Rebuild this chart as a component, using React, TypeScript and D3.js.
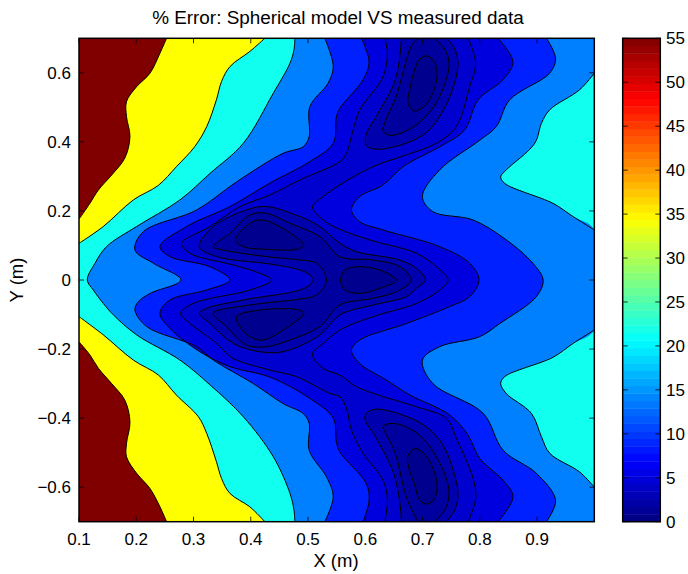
import React from "react";
import * as d3 from "d3";

type P = [number, number];

const xTicks = [0.1, 0.2, 0.3, 0.4, 0.5, 0.6, 0.7, 0.8, 0.9];
const yTicks = [-0.6, -0.4, -0.2, 0, 0.2, 0.4, 0.6];
const barTicks = [0, 5, 10, 15, 20, 25, 30, 35, 40, 45, 50, 55];

const redTop: P[] = [[.253,.70],[.2414,.657],[.224,.599],[.2007,.56],[.183,.517],[.183,.473],[.189,.415],[.18,.353],[.157,.304],[.134,.261],[.119,.222],[.1,.176]];
const redBottom: P[] = [[.1,-.179],[.119,-.217],[.134,-.256],[.157,-.30],[.18,-.348],[.189,-.411],[.183,-.473],[.183,-.512],[.2007,-.56],[.224,-.604],[.2414,-.657],[.253,-.70]];
const yellowTop: P[] = [[.4246,.70],[.3984,.662],[.3636,.618],[.349,.575],[.34,.522],[.323,.444],[.302,.386],[.27,.328],[.2385,.274],[.195,.232],[.1425,.155],[.1,.106]];
const yellowBottom: P[] = [[.1,-.106],[.1425,-.159],[.195,-.232],[.2385,-.275],[.27,-.333],[.3085,-.396],[.323,-.444],[.34,-.526],[.349,-.575],[.3636,-.618],[.3984,-.657],[.4246,-.70]];
const cyanLeft: P[] = [[.477,.70],[.4755,.667],[.4685,.628],[.4394,.541],[.387,.396],[.329,.309],[.2764,.232],[.2007,.155],[.1483,.097],[.128,.0486],[.1145,0],[.125,-.029],[.1425,-.068],[.16,-.101],[.2007,-.159],[.2764,-.232],[.329,-.304],[.387,-.396],[.4394,-.512],[.4685,-.618],[.4755,-.667],[.477,-.70]];
const cyanRight: P[] = [[1,.599],[.9744,.551],[.9222,.493],[.9077,.454],[.896,.396],[.8464,.319],[.8365,.299],[.8434,.28],[.9278,.222],[.9627,.184],[1,.145],[1,-.145],[.9627,-.184],[.9278,-.224],[.8434,-.28],[.8365,-.30],[.8464,-.329],[.89,-.386],[.9077,-.454],[.9222,-.502],[.9744,-.556],[1,-.60]];

const c4Left: P[] = [[.5293,.70],[.544,.618],[.535,.57],[.5032,.502],[.502,.415],[.4915,.386],[.4566,.367],[.375,.284],[.3054,.2027],[.2123,.14],[.1977,.0868],[.2298,.0485],[.278,0],[.2239,-.039],[.2036,-.063],[.1977,-.087],[.2182,-.135],[.3054,-.193],[.3346,-.232],[.4044,-.30],[.4566,-.358],[.4917,-.387],[.502,-.415],[.502,-.493],[.5325,-.571],[.544,-.628],[.5293,-.70]];
const c4Right: P[] = [[.9164,.70],[.9324,.642],[.922,.599],[.8523,.522],[.8287,.444],[.80,.405],[.73,.319],[.6998,.2416],[.718,.198],[.788,.174],[.8465,.116],[.893,.048],[.9106,0],[.899,-.048],[.8349,-.126],[.80,-.164],[.73,-.193],[.6998,-.232],[.718,-.30],[.8058,-.386],[.8407,-.493],[.8989,-.56],[.9324,-.638],[.9164,-.70]];

const c5Left: P[] = [[.5933,.70],[.6067,.632],[.5962,.58],[.5555,.497],[.5497,.4734],[.544,.396],[.5032,.343],[.4333,.2806],[.3636,.2127],[.288,.155],[.2414,.0966],[.2589,.0677],[.3286,.0385],[.3636,0],[.3228,-.029],[.2588,-.058],[.2414,-.0966],[.2588,-.14],[.3112,-.208],[.3636,-.251],[.4333,-.281],[.5032,-.343],[.544,-.40],[.5497,-.47],[.5555,-.498],[.602,-.59],[.6067,-.638],[.5962,-.70]];
const c5Right: P[] = [[.8318,.70],[.858,.632],[.8405,.58],[.797,.5217],[.7737,.4347],[.73,.386],[.666,.3285],[.631,.2753],[.59,.2415],[.5759,.2029],[.59,.169],[.631,.1449],[.73,.0966],[.7825,.0483],[.7988,0],[.7825,-.048],[.7474,-.077],[.6719,-.126],[.59,-.174],[.5759,-.203],[.59,-.2415],[.637,-.29],[.6777,-.333],[.7474,-.391],[.7794,-.449],[.7999,-.517],[.8407,-.58],[.858,-.628],[.8318,-.70]];

const c6Left: P[] = [[.634,.70],[.6387,.657],[.631,.589],[.5904,.4927],[.5788,.435],[.5671,.367],[.5555,.343],[.4859,.29],[.4333,.2463],[.381,.2125],[.3286,.1546],[.2792,.1063],[.2937,.0774],[.3693,.0435],[.4159,.0193],[.4368,0],[.3984,-.029],[.2995,-.0676],[.2774,-.0966],[.2937,-.1256],[.3402,-.1836],[.3606,-.2174],[.3752,-.232],[.4333,-.261],[.48,-.28],[.538,-.3285],[.5555,-.338],[.5671,-.372],[.5759,-.435],[.5962,-.502],[.631,-.58],[.6387,-.638],[.634,-.70]];
const c6Right: P[] = [[.7795,.70],[.7928,.628],[.7824,.5604],[.7591,.4444],[.7242,.396],[.6719,.3623],[.6137,.3285],[.5555,.2753],[.5264,.2415],[.5078,.2125],[.5264,.174],[.5555,.1468],[.6079,.116],[.6893,.0775],[.7242,.0386],[.7446,0],[.73,-.029],[.6893,-.068],[.6137,-.106],[.5555,-.145],[.5264,-.1836],[.5078,-.2145],[.5264,-.256],[.5555,-.2754],[.5846,-.309],[.6224,-.333],[.6894,-.367],[.7418,-.401],[.7592,-.459],[.7884,-.575],[.7929,-.633],[.7795,-.70]];

const c7Center: P[] = [[.509,0],[.5032,.0145],[.4857,.029],[.4333,.0464],[.3402,.0677],[.31,.0966],[.3344,.1546],[.3926,.2029],[.4275,.2126],[.4857,.1836],[.5206,.1546],[.5555,.1063],[.5846,.0821],[.6602,.0579],[.6893,.0338],[.705,0],[.6893,-.024],[.6719,-.048],[.6137,-.0725],[.5555,-.1014],[.5206,-.1594],[.4566,-.2077],[.4159,-.2077],[.3693,-.1836],[.3286,-.1256],[.31,-.0966],[.3228,-.0821],[.3868,-.058],[.4857,-.029],[.5032,-.014]];
const c7Top: P[] = [[.6631,.70],[.659,.63],[.6486,.5623],[.6195,.4753],[.6009,.4173],[.602,.3884],[.6195,.3787],[.666,.3932],[.7067,.427],[.7358,.4898],[.7562,.5719],[.762,.6299],[.7562,.6686],[.7428,.70]];
const c7Bottom: P[] = [[.6631,-.70],[.6602,-.6425],[.6486,-.5555],[.6195,-.4589],[.5991,-.4009],[.605,-.3816],[.6195,-.3739],[.666,-.3913],[.7067,-.4251],[.7358,-.4782],[.7562,-.5652],[.762,-.6232],[.7562,-.6666],[.7417,-.70]];

const c8Center: P[] = [[.5322,0],[.5148,.0483],[.4857,.058],[.4275,.0677],[.3519,.087],[.3344,.0966],[.3635,.1353],[.3984,.1884],[.4275,.1932],[.4682,.1643],[.5206,.1256],[.5555,.0676],[.6137,.058],[.6602,.0386],[.6806,0],[.6544,-.0338],[.6137,-.0531],[.5555,-.0725],[.5206,-.1353],[.4682,-.1739],[.4275,-.1932],[.3926,-.1884],[.3577,-.1353],[.3344,-.0966],[.3984,-.0725],[.4857,-.0551],[.5148,-.0435]];
const c8Top: P[] = [[.6922,.70],[.6806,.6782],[.6689,.6202],[.6544,.5333],[.6341,.456],[.6311,.4318],[.6428,.4193],[.6718,.4318],[.7009,.4657],[.7242,.514],[.7417,.5816],[.7463,.6299],[.7388,.6686],[.7213,.70]];
const c8Bottom: P[] = [[.6922,-.70],[.6748,-.6425],[.666,-.5942],[.6515,-.4976],[.6341,-.4396],[.6311,-.4251],[.6428,-.4154],[.6718,-.4251],[.7009,-.4589],[.7242,-.512],[.7417,-.5748],[.7463,-.6232],[.7388,-.6666],[.7213,-.70]];

const c9Top: P[] = [[.7079,.6492],[.7213,.63],[.7254,.5913],[.7184,.543],[.7038,.5043],[.6864,.4898],[.6748,.5091],[.6777,.5526],[.6864,.6106],[.6951,.6396]];
const c9Bottom: P[] = [[.6864,-.4879],[.7009,-.4995],[.7184,-.5459],[.7254,-.5942],[.7213,-.6328],[.7079,-.6492],[.6951,-.6377],[.6864,-.5942],[.6748,-.5362],[.6748,-.5072]];
const c9Upper: P[] = [[.3734,.116],[.3984,.1643],[.4159,.1739],[.4391,.1643],[.4927,.1015],[.4799,.0889],[.4275,.0889],[.3868,.0966]];
const c9Lower: P[] = [[.3751,-.1063],[.4159,-.087],[.4857,-.087],[.4927,-.0966],[.4566,-.1449],[.4217,-.1739],[.3984,-.1643],[.381,-.1353]];
const c9Center: P[] = [[.5567,0],[.5642,.029],[.5904,.0387],[.6253,.029],[.6544,0],[.6253,-.0242],[.5904,-.0387],[.5642,-.029]];

const jet = (t: number) => {
  const f = (c: number) => Math.round(255 * Math.max(0, Math.min(1, 1.5 - Math.abs(4 * t - c))));
  return `rgb(${f(3)},${f(2)},${f(1)})`;
};

const X0 = 79, X1 = 594.3, Y0 = 521.7, Y1 = 38.3;
const x = d3.scaleLinear().domain([0.1, 1]).range([X0, X1]);
const y = d3.scaleLinear().domain([-0.7, 0.7]).range([Y0, Y1]);
const bar = d3.scaleLinear().domain([0, 55]).range([Y0, Y1]);
const BX0 = 622.7, BX1 = 660.3;

const open = d3.line<P>().x(d => x(d[0])).y(d => y(d[1])).curve(d3.curveCatmullRom.alpha(0.5));
const closed = d3.line<P>().x(d => x(d[0])).y(d => y(d[1])).curve(d3.curveCatmullRomClosed.alpha(0.5));

const two = (a: P[], b: P[]) => `${open(a)}L${(open([...b].reverse()) as string).slice(1)}Z`;
const corner = (a: P[], cx: number, cy: number) => `${open(a)}L${x(cx)},${y(cy)}Z`;

const COL = { red: "#800000", yellow: "#ffff00", cyan: "#10ffef", c3: "#0080ff", c4: "#0020ff", c5: "#0000df", c6: "#0000cf", c7: "#0000af", c8: "#00009f", c9: "#00008f" };

const fills: [string, string][] = [
  [`${open(cyanLeft)}L${x(0.1)},${y(-0.7)}L${x(0.1)},${y(0.7)}Z`, COL.cyan],
  [`${open(cyanRight)}Z`, COL.cyan],
  [corner(yellowTop, 0.1, 0.7), COL.yellow],
  [corner(yellowBottom, 0.1, -0.7), COL.yellow],
  [corner(redTop, 0.1, 0.7), COL.red],
  [corner(redBottom, 0.1, -0.7), COL.red],
  [two(c4Left, c4Right), COL.c4],
  [two(c5Left, c5Right), COL.c5],
  [two(c6Left, c6Right), COL.c6],
  [closed(c7Center) as string, COL.c7],
  [`${open(c7Top)}Z`, COL.c7],
  [`${open(c7Bottom)}Z`, COL.c7],
  [closed(c8Center) as string, COL.c8],
  [`${open(c8Top)}Z`, COL.c8],
  [`${open(c8Bottom)}Z`, COL.c8],
  ...[c9Top, c9Bottom, c9Upper, c9Lower, c9Center].map(a => [closed(a) as string, COL.c9] as [string, string]),
];

const strokes: string[] = [
  ...[redTop, redBottom, yellowTop, yellowBottom, cyanLeft, c4Left, c4Right, c5Left, c5Right, c6Left, c6Right, c7Top, c7Bottom, c8Top, c8Bottom].map(a => open(a) as string),
  ...[c7Center, c8Center, c9Top, c9Bottom, c9Upper, c9Lower, c9Center].map(a => closed(a) as string),
  open(cyanRight.slice(0, 11)) as string,
  open(cyanRight.slice(11)) as string,
];

const FONT = "'Liberation Sans', Arial, sans-serif";
const fmt = (v: number) => (v < 0 ? "\u2212" : "") + Math.abs(v).toFixed(v === 0 ? 0 : 1);
const bands = d3.range(64);

export default function App() {
  return (
    <svg width={688} height={574} style={{ position: "absolute", left: 0, top: 0 }} fontFamily={FONT} fill="#000">
      <defs>
        <clipPath id="plot"><rect x={X0} y={Y1} width={X1 - X0} height={Y0 - Y1} /></clipPath>
      </defs>
      <text x={338} y={24} textAnchor="middle" fontSize={18.9}>% Error: Spherical model VS measured data</text>
      <g clipPath="url(#plot)">
        <rect x={X0} y={Y1} width={X1 - X0} height={Y0 - Y1} fill={COL.c3} />
        {fills.map(([d, c], i) => <path key={i} d={d} fill={c} />)}
        {strokes.map((d, i) => <path key={i} d={d} fill="none" stroke="#000" strokeWidth={1} />)}
      </g>
      {xTicks.map(t => (
        <g key={t} stroke="#000" strokeWidth={0.8}>
          <line x1={x(t)} x2={x(t)} y1={Y0} y2={Y0 - 5} />
          <line x1={x(t)} x2={x(t)} y1={Y1} y2={Y1 + 5} />
        </g>
      ))}
      {yTicks.map(t => (
        <g key={t} stroke="#000" strokeWidth={0.8}>
          <line x1={X0} x2={X0 + 5} y1={y(t)} y2={y(t)} />
          <line x1={X1} x2={X1 - 5} y1={y(t)} y2={y(t)} />
        </g>
      ))}
      <rect x={X0} y={Y1} width={X1 - X0} height={Y0 - Y1} fill="none" stroke="#000" strokeWidth={1.5} />
      {xTicks.map(t => <text key={t} x={x(t)} y={545} textAnchor="middle" fontSize={17}>{t.toFixed(1)}</text>)}
      {yTicks.map(t => <text key={t} x={71} y={y(t) + 6} textAnchor="end" fontSize={17}>{fmt(t)}</text>)}
      <text x={336} y={567} textAnchor="middle" fontSize={18.5}>X (m)</text>
      <text transform={`translate(23,280) rotate(-90)`} textAnchor="middle" fontSize={18.5}>Y (m)</text>

      {bands.map(i => (
        <rect key={i} x={BX0} width={BX1 - BX0} y={bar(((i + 1) * 55) / 64)} height={bar((i * 55) / 64) - bar(((i + 1) * 55) / 64) + 0.4} fill={jet((i + 0.5) / 64)} />
      ))}
      {barTicks.map(t => (
        <g key={t} stroke="#000" strokeWidth={0.8}>
          <line x1={BX0} x2={BX0 + 5} y1={bar(t)} y2={bar(t)} />
          <line x1={BX1} x2={BX1 - 5} y1={bar(t)} y2={bar(t)} />
        </g>
      ))}
      <rect x={BX0} y={Y1} width={BX1 - BX0} height={Y0 - Y1} fill="none" stroke="#000" strokeWidth={1.5} />
      {barTicks.map(t => <text key={t} x={666} y={bar(t) + 6} fontSize={17}>{t}</text>)}
    </svg>
  );
}
